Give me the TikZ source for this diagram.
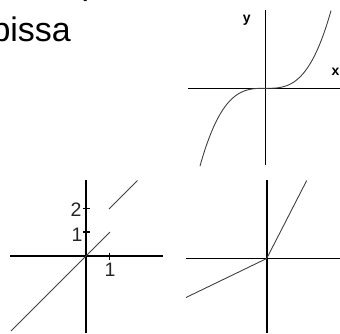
\documentclass[tikz,border=0pt]{standalone}
\usepackage{fontspec}
\setmainfont{Liberation Sans}
\begin{document}
\begin{tikzpicture}[x=1pt,y=-1pt,
  axis/.style={line width=1.6pt,black},
  graph/.style={line width=0.9pt,black!75},
  tick/.style={line width=1.3pt,black},
  lab/.style={inner sep=0pt,font=\fontsize{19.5}{19.5}\selectfont,text=black!85},
  axlab/.style={inner sep=0pt,font=\fontsize{14}{14}\selectfont\bfseries}]
\useasboundingbox (0,0) rectangle (340,333);
% partial heading text
\node[inner sep=0pt,anchor=base west,font=\fontsize{34}{34}\selectfont] (par) at (76,-5.5) {(};
\node[inner sep=0pt,anchor=base west,font=\fontsize{34}{34}\selectfont] (word) at (-8.7,41) {bissa};
% ---- top graph: cubic
\coordinate (o1) at (265.5,88.3);
\coordinate (o1l) at (187.5,88.3);
\coordinate (o1r) at (340,88.3);
\coordinate (o1t) at (265.5,10);
\coordinate (o1b) at (265.5,165);
\draw[axis] (o1l) -- (o1r);
\draw[axis] (o1t) -- (o1b);
\draw[graph,shift={(o1)}] plot[domain=-65.5:65.5,samples=80,smooth] (\x,{-77.7*(\x/65.5)^3});
\node[axlab] (ylab) at (246.7,20.5) {y};
\node[axlab] (xlab) at (335.5,71.5) {x};
% ---- bottom-left graph
\coordinate (o2) at (86,256);
\coordinate (o2l) at (10,256);
\coordinate (o2r) at (163,256);
\coordinate (o2t) at (86,180);
\coordinate (o2b) at (86,333);
\draw[axis] (o2l) -- (o2r);
\draw[axis] (o2t) -- (o2b);
\coordinate (t2a) at (83,208.5); \coordinate (t2b) at (89.5,208.5);
\coordinate (t1a) at (83,232);   \coordinate (t1b) at (89.5,232);
\coordinate (tx1) at (109.5,252.5); \coordinate (tx2) at (109.5,259.5);
\draw[tick] (t2a) -- (t2b);
\draw[tick] (t1a) -- (t1b);
\draw[tick] (tx1) -- (tx2);
\coordinate (l1s) at (11,331);
\coordinate (l1e) at (110,232);
\coordinate (l2s) at (109,209);
\coordinate (l2e) at (137.5,180.5);
\draw[graph] (l1s) -- (l1e);
\draw[graph] (l2s) -- (l2e);
\node[lab] (n2) at (76,209.5) {2};
\node[lab] (n1) at (77,235) {1};
\node[lab] (nx1) at (110,270) {1};
% ---- bottom-right graph
\coordinate (o3) at (266.7,258.5);
\coordinate (o3l) at (186,258.5);
\coordinate (o3r) at (340,258.5);
\coordinate (o3t) at (266.7,180);
\coordinate (o3b) at (266.7,333);
\draw[axis] (o3l) -- (o3r);
\draw[axis] (o3t) -- (o3b);
\coordinate (p3a) at (306.7,180.5);
\coordinate (p3b) at (186,297.5);
\draw[graph] (o3) -- (p3a);
\draw[graph] (o3) -- (p3b);
\end{tikzpicture}
\end{document}
